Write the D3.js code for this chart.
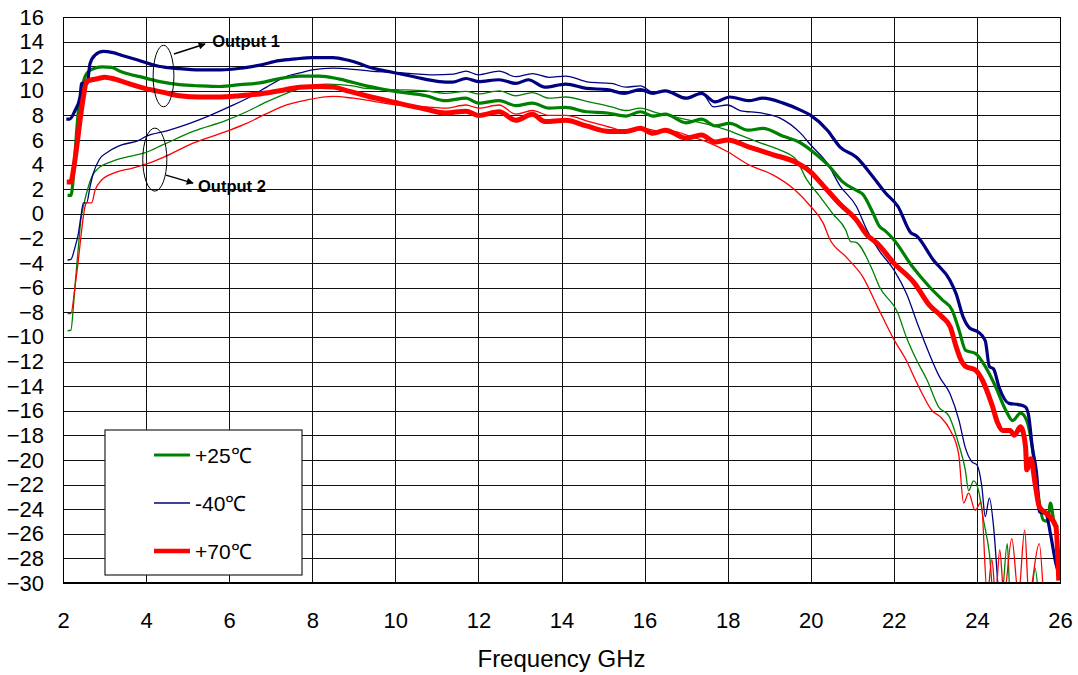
<!DOCTYPE html>
<html>
<head>
<meta charset="utf-8">
<script src="https://cdn.jsdelivr.net/npm/d3@7"></script>
<style>
body { margin: 0; background: #fff; }
svg { display: block; font-family: "Liberation Sans", Arial, sans-serif; }
</style>
</head>
<body>
<div id="viz_div"></div>
<script>
// Gain vs frequency, two outputs at three temperatures.
// Each series is a list of [GHz, dB].

var out1_m40 = [[2.08,7.7],[2.16,7.7],[2.29,8.4],[2.41,9.5],[2.45,10.6],[2.58,10.6],[2.65,12.2],[2.77,12.9],[2.97,13.2],[3.2,13.1],[3.4,12.9],[3.8,12.5],[4.3,12.0],[4.8,11.8],[5.3,11.7],[5.8,11.7],[6.3,11.85],[6.75,12.1],[7.2,12.45],[7.6,12.6],[8.0,12.7],[8.5,12.7],[8.85,12.5],[9.15,12.2],[9.3,12.0],[9.78,11.6],[10.1,11.4],[10.5,11.1],[11.06,10.75],[11.37,10.7],[11.7,11.0],[12.0,10.75],[12.5,10.9],[12.9,10.6],[13.2,10.9],[13.6,10.3],[14.1,10.55],[14.6,10.2],[15.1,10.1],[15.5,9.8],[15.9,10.1],[16.2,9.8],[16.5,10.0],[17.0,9.4],[17.37,9.8],[17.7,9.1],[18.05,9.5],[18.5,9.2],[18.85,9.4],[19.34,9.0],[19.74,8.45],[20.0,8.0],[20.4,6.8],[20.7,5.45],[21.1,4.6],[21.5,3.0],[21.8,1.7],[22.1,0.6],[22.4,-1.5],[22.55,-1.8],[22.95,-3.75],[23.35,-5.4],[23.5,-6.5],[23.67,-8.4],[23.83,-9.3],[24.03,-9.6],[24.2,-10.3],[24.3,-12.4],[24.4,-12.6],[24.53,-14.05],[24.77,-15.4],[25.0,-15.5],[25.17,-15.7],[25.25,-16.5],[25.33,-18.9],[25.45,-21.6],[25.5,-24.2],[25.66,-24.35],[25.77,-26.0],[25.9,-28.4],[25.95,-29.0]];

var out2_m40 = [[2.11,-3.75],[2.19,-3.7],[2.29,-2.7],[2.37,-1.6],[2.43,-0.25],[2.49,0.9],[2.57,0.9],[2.65,2.2],[2.73,3.3],[2.87,4.4],[3.09,5.05],[3.41,5.6],[3.81,5.95],[4.0,6.3],[4.5,6.75],[5.0,7.3],[5.5,7.95],[6.0,8.7],[6.5,9.5],[6.9,10.3],[7.4,11.2],[7.7,11.45],[8.0,11.7],[8.5,11.85],[8.98,11.75],[9.4,11.6],[9.93,11.5],[10.4,11.4],[10.9,11.3],[11.4,11.35],[11.7,11.6],[12.0,11.3],[12.5,11.6],[12.9,11.15],[13.3,11.4],[13.7,11.1],[14.1,11.2],[14.66,10.7],[15.2,10.6],[15.55,10.3],[15.9,10.4],[16.2,9.9],[16.5,10.0],[17.0,9.45],[17.37,9.85],[17.66,8.7],[18.0,8.85],[18.3,8.4],[18.8,8.2],[19.25,7.8],[19.74,6.6],[20.0,5.6],[20.4,4.1],[20.7,2.3],[21.1,0.6],[21.35,-1.3],[21.65,-3.0],[22.0,-4.55],[22.3,-6.45],[22.6,-9.2],[22.85,-11.35],[23.1,-13.25],[23.35,-14.6],[23.57,-16.8],[23.72,-19.0],[23.88,-20.15],[24.0,-20.4],[24.12,-22.2],[24.2,-24.6],[24.3,-23.1],[24.4,-25.4],[24.52,-31]];

var out1_p25 = [[2.11,1.5],[2.19,1.5],[2.25,3.0],[2.29,4.9],[2.33,6.8],[2.38,8.7],[2.45,10.1],[2.53,11.15],[2.61,11.55],[2.73,11.8],[2.93,11.95],[3.17,11.9],[3.37,11.6],[3.6,11.35],[3.85,11.15],[4.33,10.75],[4.8,10.5],[5.3,10.4],[5.78,10.35],[6.26,10.5],[6.74,10.65],[7.22,11.0],[7.7,11.2],[8.18,11.2],[8.66,10.95],[9.3,10.4],[10.0,9.95],[10.74,9.6],[11.2,9.2],[11.7,9.4],[12.0,9.0],[12.5,9.2],[12.9,8.8],[13.3,9.0],[13.7,8.6],[14.1,8.65],[14.6,8.3],[15.1,8.2],[15.55,7.95],[15.9,8.3],[16.2,7.95],[16.5,8.1],[17.0,7.4],[17.37,7.7],[17.7,7.15],[18.05,7.35],[18.5,6.8],[18.85,6.95],[19.34,6.3],[19.74,5.8],[20.14,4.8],[20.45,3.85],[20.77,2.6],[21.1,1.9],[21.25,1.6],[21.5,0.05],[21.65,-1.0],[21.8,-1.4],[22.0,-2.1],[22.45,-4.3],[22.85,-5.9],[23.17,-7.0],[23.4,-7.8],[23.57,-9.45],[23.73,-11.1],[23.97,-11.35],[24.2,-12.4],[24.45,-14.05],[24.7,-16.0],[24.86,-16.8],[25.05,-16.2],[25.2,-16.8],[25.33,-18.9],[25.45,-22.2],[25.6,-24.9],[25.7,-25.0],[25.77,-23.5],[25.85,-24.9],[25.95,-25.5]];

var out2_p25 = [[2.11,-9.5],[2.19,-9.45],[2.25,-7.55],[2.3,-5.4],[2.37,-2.7],[2.43,-0.5],[2.51,0.9],[2.61,2.2],[2.69,3.0],[2.85,3.7],[3.17,4.25],[3.57,4.65],[4.0,5.0],[4.4,5.6],[5.13,6.7],[5.93,7.6],[6.42,8.3],[6.9,9.1],[7.38,9.8],[7.86,10.35],[8.34,10.55],[8.98,10.4],[9.3,10.2],[10.0,10.1],[10.74,10.0],[11.2,9.8],[11.7,9.95],[12.0,9.75],[12.5,10.0],[12.9,9.6],[13.3,9.85],[13.7,9.4],[14.1,9.5],[14.66,9.1],[15.2,8.7],[15.55,8.4],[15.9,8.6],[16.3,8.2],[16.7,7.9],[17.1,7.6],[17.5,7.3],[18.0,6.8],[18.3,6.4],[18.8,5.75],[19.25,5.2],[19.65,4.4],[19.9,2.8],[20.2,1.5],[20.52,0.05],[20.84,-1.3],[20.96,-2.25],[21.08,-2.3],[21.45,-4.3],[21.65,-5.9],[22.1,-8.1],[22.3,-10.0],[22.55,-11.9],[22.8,-13.5],[23.08,-15.7],[23.32,-16.4],[23.56,-18.7],[23.72,-20.8],[23.8,-22.5],[23.92,-21.7],[24.04,-22.5],[24.16,-24.9],[24.3,-27.6],[24.4,-31],[24.6,-31],[24.73,-26.8],[24.8,-31],[25.3,-31],[25.4,-28.8],[25.48,-31]];

var out1_p70 = [[2.09,2.6],[2.19,2.6],[2.25,3.55],[2.33,5.45],[2.41,7.6],[2.49,9.5],[2.57,10.75],[2.69,10.9],[2.85,11.0],[3.0,11.1],[3.25,10.95],[3.57,10.6],[3.97,10.2],[4.45,9.85],[4.8,9.6],[5.3,9.5],[5.78,9.5],[6.26,9.6],[6.74,9.75],[7.22,10.0],[7.7,10.3],[8.18,10.35],[8.5,10.3],[8.9,9.95],[9.3,9.6],[10.0,9.05],[10.74,8.5],[11.2,8.2],[11.7,8.35],[12.0,8.0],[12.5,8.3],[12.9,7.6],[13.3,8.1],[13.6,7.5],[14.1,7.6],[14.6,7.15],[15.15,6.7],[15.55,6.7],[15.9,6.95],[16.2,6.55],[16.5,6.8],[17.0,6.15],[17.37,6.4],[17.7,5.85],[18.0,6.0],[18.5,5.45],[19.1,4.8],[19.6,4.25],[20.0,3.4],[20.3,2.3],[20.7,0.8],[21.1,-0.5],[21.35,-1.7],[21.6,-2.4],[22.0,-4.0],[22.5,-5.65],[22.85,-7.4],[23.17,-8.4],[23.36,-9.2],[23.5,-10.8],[23.6,-11.75],[23.73,-12.4],[23.97,-12.7],[24.13,-13.5],[24.37,-15.6],[24.5,-17.0],[24.62,-17.6],[24.8,-17.6],[24.9,-18.0],[25.05,-17.3],[25.17,-18.9],[25.2,-20.8],[25.3,-19.9],[25.4,-21.9],[25.5,-23.8],[25.67,-24.35],[25.9,-25.4],[25.97,-29.8]];

var out2_p70 = [[2.11,-8.1],[2.19,-8.1],[2.29,-5.9],[2.37,-3.75],[2.45,-1.3],[2.53,0.6],[2.57,0.9],[2.69,0.9],[2.77,1.9],[2.93,2.75],[3.25,3.35],[3.65,3.7],[4.05,4.1],[4.45,4.65],[5.13,5.75],[5.93,6.7],[6.42,7.35],[6.9,8.15],[7.38,8.85],[7.86,9.25],[8.5,9.55],[8.98,9.4],[9.3,9.25],[10.0,8.85],[10.74,8.7],[11.2,8.6],[11.7,8.85],[12.0,8.6],[12.5,8.85],[12.9,8.1],[13.3,8.4],[13.7,8.0],[14.1,8.0],[14.66,7.5],[15.2,7.0],[15.55,6.7],[15.9,7.0],[16.3,6.75],[16.7,6.7],[17.1,6.3],[17.5,5.85],[18.0,5.05],[18.5,4.0],[19.1,3.15],[19.6,2.0],[20.0,0.6],[20.3,-0.75],[20.45,-2.0],[20.85,-3.5],[21.25,-5.1],[21.6,-7.5],[22.0,-10.2],[22.3,-11.9],[22.52,-13.5],[22.68,-14.6],[22.92,-16.0],[23.12,-16.5],[23.36,-17.6],[23.56,-19.5],[23.68,-23.5],[23.8,-22.7],[23.96,-24.1],[24.1,-23.4],[24.25,-31],[24.36,-28.1],[24.45,-31],[24.55,-27.3],[24.65,-31],[24.84,-26.4],[25.0,-31],[25.15,-25.7],[25.25,-31],[25.5,-26.8],[25.6,-31]];

var x_ticks = d3.range(2, 27, 2);
var y_ticks = d3.range(-30, 17, 2);
var legend_labels = ["+25\u2103", "-40\u2103", "+70\u2103"];

var W = 1078, H = 675;
var margin = { top: 17, right: 18, bottom: 92, left: 63 };
var w = W - margin.left - margin.right,
    h = H - margin.top - margin.bottom;

var xs = d3.scaleLinear().domain([2, 26]).range([0, w]);
var ys = d3.scaleLinear().domain([-30, 16]).range([h, 0]);

var navy = "#000080", green = "#008000", red = "#ff0000";

// thin ones first, thick ones painted over them
var series = [
	{ data: out2_p25, color: green, width: 1.3 },
	{ data: out2_m40, color: navy,  width: 1.3 },
	{ data: out2_p70, color: red,   width: 1.3 },
	{ data: out1_p25, color: green, width: 3.2 },
	{ data: out1_m40, color: navy,  width: 3.2 },
	{ data: out1_p70, color: red,   width: 5 }
];

function generate_viz() {
	var svg = d3.select("#viz_div")
				.append("svg")
				.attr("width", W)
				.attr("height", H);

	svg.append("rect").attr("width", W).attr("height", H).attr("fill", "#fff");

	svg.append("clipPath").attr("id", "plotclip")
		.append("rect").attr("width", w).attr("height", h);

	var g = svg.append("g").attr("transform", "translate(" + margin.left + "," + margin.top + ")");

	// grid
	g.append("g")
		.call(d3.axisLeft(ys).tickValues(y_ticks).tickSize(-w).tickFormat(""))
		.call(function(s) { s.select(".domain").remove(); })
		.selectAll("line").attr("stroke", "#111").attr("shape-rendering", "crispEdges");
	g.append("g")
		.attr("transform", "translate(0," + h + ")")
		.call(d3.axisBottom(xs).tickValues(x_ticks).tickSize(h).tickFormat(""))
		.call(function(s) { s.select(".domain").remove(); })
		.selectAll("line").attr("transform", "translate(0," + (-h) + ")")
		.attr("stroke", "#111").attr("shape-rendering", "crispEdges");

	// tick labels
	var yax = g.append("g")
		.call(d3.axisLeft(ys).tickValues(y_ticks).tickSize(0).tickPadding(19));
	yax.select(".domain").remove();
	yax.selectAll("text").attr("font-size", 22).attr("fill", "#000")
		.attr("font-family", "Liberation Sans, Arial, sans-serif");

	var xax = g.append("g")
		.attr("transform", "translate(0," + h + ")")
		.call(d3.axisBottom(xs).tickValues(x_ticks).tickSize(0).tickPadding(29));
	xax.select(".domain").remove();
	xax.selectAll("text").attr("font-size", 22).attr("fill", "#000")
		.attr("font-family", "Liberation Sans, Arial, sans-serif");

	g.append("text")
		.attr("x", w / 2)
		.attr("y", h + 84)
		.attr("text-anchor", "middle")
		.attr("font-size", 24)
		.text("Frequency GHz");

	// curves
	var line = d3.line()
		.x(function(d) { return xs(d[0]); })
		.y(function(d) { return ys(d[1]); })
		.curve(d3.curveMonotoneX);

	g.append("g").attr("clip-path", "url(#plotclip)")
		.selectAll("path")
		.data(series)
		.enter()
		.append("path")
		.attr("d", function(d) { return line(d.data); })
		.attr("fill", "none")
		.attr("stroke", function(d) { return d.color; })
		.attr("stroke-width", function(d) { return d.width; })
		.attr("stroke-linejoin", "round");

	// frame
	g.append("rect").attr("width", w).attr("height", h)
		.attr("fill", "none").attr("stroke", "#000").attr("stroke-width", 1)
		.attr("shape-rendering", "crispEdges");
	g.append("line").attr("x1", 0).attr("x2", w).attr("y1", h).attr("y2", h)
		.attr("stroke", "#000").attr("stroke-width", 2);

	// Output 1 / Output 2 call-outs
	svg.append("defs").append("marker")
		.attr("id", "arr")
		.attr("viewBox", "0 0 10 10")
		.attr("refX", 9).attr("refY", 5)
		.attr("markerWidth", 9).attr("markerHeight", 7)
		.attr("markerUnits", "userSpaceOnUse")
		.attr("orient", "auto")
		.append("path").attr("d", "M0,0L10,5L0,10z").attr("fill", "#000");

	var notes = [
		{ cx: 4.42, cy: 11.2, rx: 0.25, ry: 2.5, a0: [4.67, 12.99], a1: [5.42, 13.8], tx: 5.59, ty: 13.55, label: "Output 1" },
		{ cx: 4.21, cy: 4.41, rx: 0.29, ry: 2.56, a0: [4.48, 3.15], a1: [5.13, 2.5], tx: 5.25, ty: 1.75, label: "Output 2" }
	];
	notes.forEach(function(n) {
		g.append("ellipse")
			.attr("cx", xs(n.cx)).attr("cy", ys(n.cy))
			.attr("rx", xs(2 + n.rx)).attr("ry", h - ys(-30 + n.ry))
			.attr("fill", "none").attr("stroke", "#000").attr("stroke-width", 1);
		g.append("line")
			.attr("x1", xs(n.a0[0])).attr("y1", ys(n.a0[1]))
			.attr("x2", xs(n.a1[0])).attr("y2", ys(n.a1[1]))
			.attr("stroke", "#000").attr("stroke-width", 1.5)
			.attr("marker-end", "url(#arr)");
		g.append("text")
			.attr("x", xs(n.tx)).attr("y", ys(n.ty))
			.attr("font-size", 16.5).attr("font-weight", "bold")
			.text(n.label);
	});

	// legend
	var lg = svg.append("g").attr("transform", "translate(105,430)");
	lg.append("rect").attr("width", 197).attr("height", 145)
		.attr("fill", "#fff").attr("stroke", "#222").attr("stroke-width", 1.2);
	var leg_series = [series[3], series[1], series[5]];
	legend_labels.forEach(function(lab, i) {
		var yy = 25 + i * 48;
		lg.append("line").attr("x1", 49).attr("x2", 85).attr("y1", yy).attr("y2", yy)
			.attr("stroke", leg_series[i].color)
			.attr("stroke-width", i == 2 ? 4.5 : (i == 0 ? 3 : 1.3));
		lg.append("text").attr("x", 90).attr("y", yy + 8)
			.attr("font-size", 21).text(lab);
	});
} //  generate_viz()

generate_viz();
</script>
</body>
</html>
